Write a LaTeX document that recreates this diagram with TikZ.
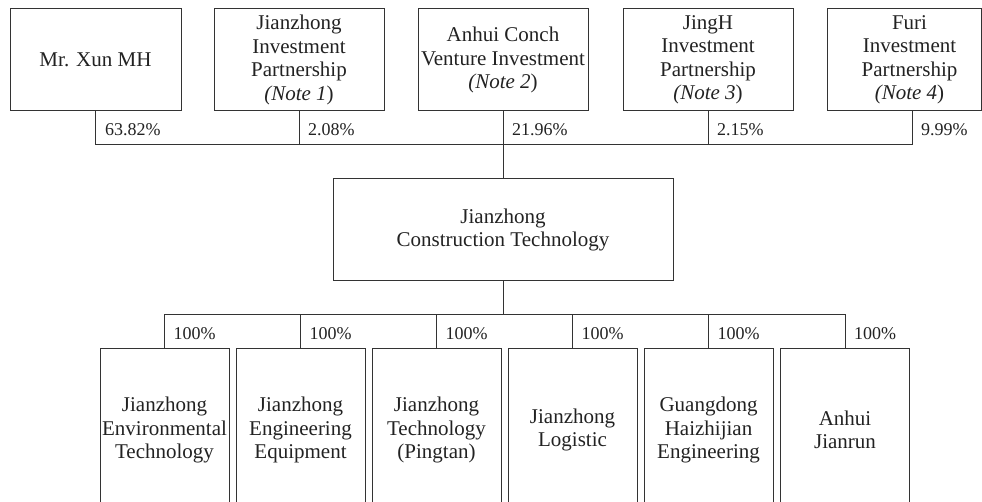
\documentclass[tikz,border=0pt]{standalone}
\usepackage{fontspec}
\setmainfont{Liberation Serif}
\definecolor{linec}{HTML}{333333}
\definecolor{txtc}{HTML}{222222}
\begin{document}
\begin{tikzpicture}[x=1pt,y=-1pt,
  box/.style={draw=linec, line width=1pt, inner sep=1pt, align=center,
    font=\fontsize{21}{23.5}\selectfont, text=txtc},
  topbox/.style={box, minimum width=170pt, minimum height=102pt},
  botbox/.style={box, minimum width=129pt, minimum height=162pt},
  pct/.style={anchor=west, inner sep=0pt, font=\fontsize{18}{20}\selectfont, text=txtc},
  conn/.style={draw=linec, line width=1pt}]
\useasboundingbox (0,0) rectangle (982,502);
\clip (0,0) rectangle (982,502);
% top row
\node[topbox, minimum width=171pt] (t1) at (95.5,60) {Mr. Xun MH};
\node[topbox] (t2) at (299,60) {Jianzhong\\Investment\\Partnership\\\textit{(Note 1})};
\node[topbox] (t3) at (503,60) {Anhui Conch\\Venture Investment\\\textit{(Note 2})};
\node[topbox] (t4) at (708,60) {JingH\\Investment\\Partnership\\\textit{(Note 3})};
\node[topbox, minimum width=154pt] (t5) at (904,60) {};
\node[box, draw=none] (t5txt) at (909.5,60) {Furi\\Investment\\Partnership\\\textit{(Note 4})};
% centre
\node[box, minimum width=340pt, minimum height=102pt] (c) at (503,230) {Jianzhong\\Construction Technology};
% bottom row
\node[botbox] (b1) at (164.5,430) {Jianzhong\\Environmental\\Technology};
\node[botbox] (b2) at (300.5,430) {Jianzhong\\Engineering\\Equipment};
\node[botbox] (b3) at (436.5,430) {Jianzhong\\Technology\\(Pingtan)};
\node[botbox] (b4) at (572.5,430) {Jianzhong\\Logistic};
\node[botbox] (b5) at (708.5,430) {Guangdong\\Haizhijian\\Engineering};
\node[botbox] (b6) at (845,430) {Anhui\\Jianrun};
% connectors top
\coordinate (bus1) at (503,145);
\coordinate (t5c) at (912,111);
\draw[conn] (t1.south) -- (t1.south |- bus1) -- (t5c |- bus1) -- (t5c);
\foreach \n in {t2,t3,t4} \draw[conn] (\n.south) -- (\n.south |- bus1);
\draw[conn] (bus1) -- (c.north);
% connectors bottom
\coordinate (bus2) at (503,315);
\draw[conn] (c.south) -- (bus2);
\draw[conn] (b1.north) -- (b1.north |- bus2) -- (b6.north |- bus2) -- (b6.north);
\foreach \n in {b2,b3,b4,b5} \draw[conn] (\n.north) -- (\n.north |- bus2);
% percentage labels
\node[pct] (p1) at (105,130) {63.82\%};
\node[pct] (p2) at (308,130) {2.08\%};
\node[pct] (p3) at (512,130) {21.96\%};
\node[pct] (p4) at (717,130) {2.15\%};
\node[pct] (p5) at (921,130) {9.99\%};
\node[pct] (q1) at (173.5,334) {100\%};
\node[pct] (q2) at (309.5,334) {100\%};
\node[pct] (q3) at (445.5,334) {100\%};
\node[pct] (q4) at (581.5,334) {100\%};
\node[pct] (q5) at (717.5,334) {100\%};
\node[pct] (q6) at (854,334) {100\%};
\end{tikzpicture}
\end{document}
